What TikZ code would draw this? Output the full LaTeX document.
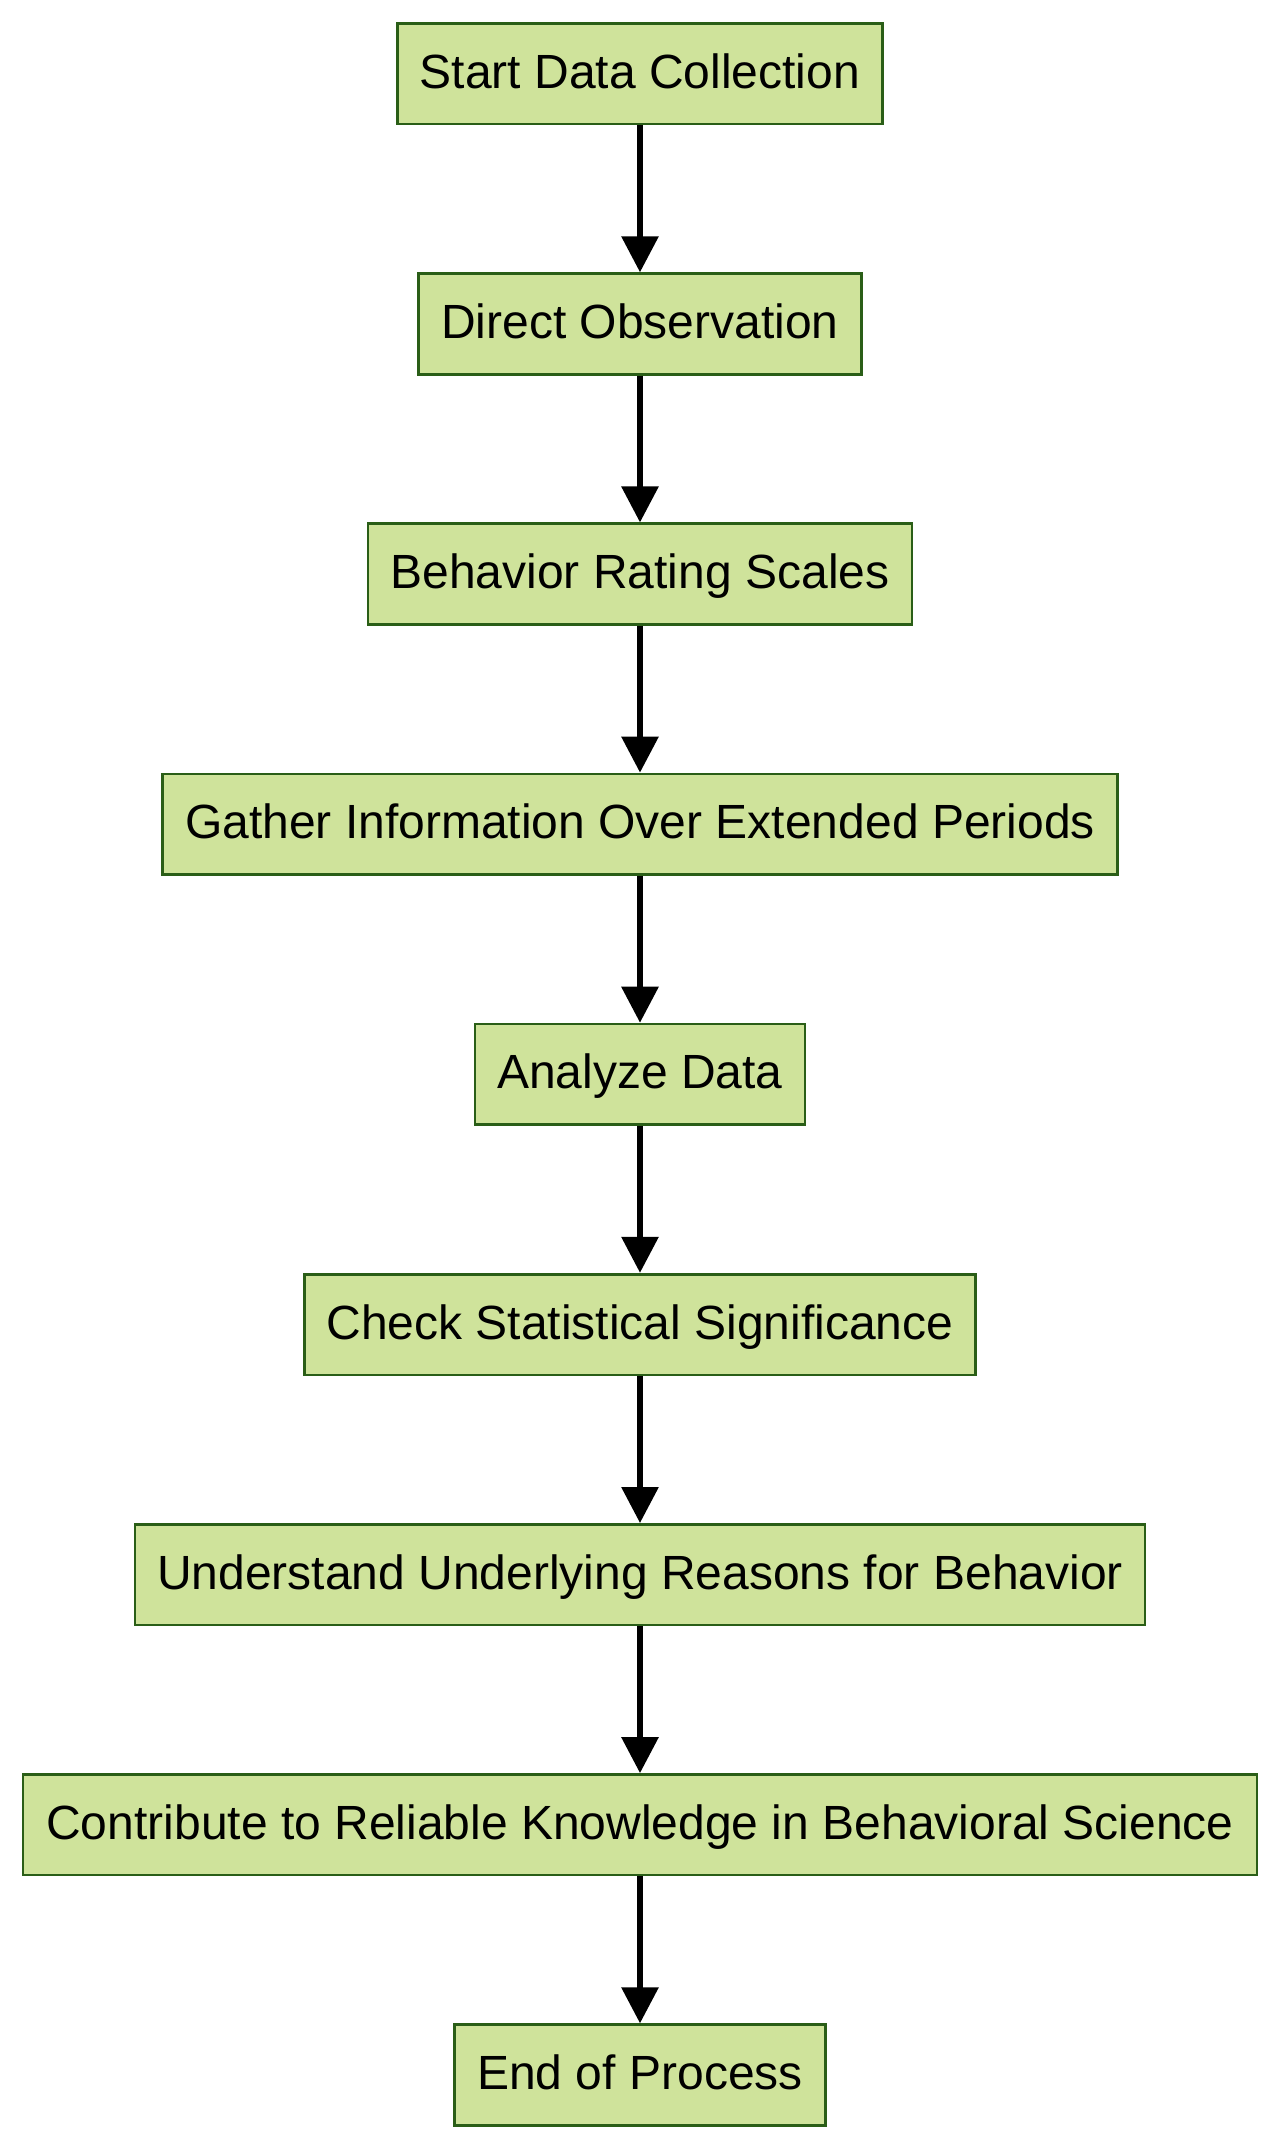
\documentclass[tikz,border=0pt]{standalone}
\usepackage{fontspec}
\setmainfont{Liberation Sans}
\usetikzlibrary{arrows.meta}
\definecolor{boxfill}{HTML}{CFE39B}
\definecolor{boxline}{HTML}{2A5E17}
\begin{document}
\begin{tikzpicture}[x=0.75pt,y=-0.75pt,
  stepbox/.style={draw=boxline,fill=boxfill,line width=2pt,minimum height=75.5pt,inner sep=0pt,
    text height=27pt,text depth=5.2pt,
    font=\fontsize{36}{43}\selectfont,text=black,anchor=center},
  flow/.style={line width=4.5pt,draw=black,-{Triangle[length=27pt,width=27pt]}}]
\useasboundingbox[fill=white] (0,0) rectangle (1280,2149);
\node[stepbox,minimum width=364pt] (n1) at (640,73.8) {Start Data Collection};
\node[stepbox,minimum width=332pt] (n2) at (640,324.0) {Direct Observation};
\node[stepbox,minimum width=408pt] (n3) at (640,574.1) {Behavior Rating Scales};
\node[stepbox,minimum width=716pt] (n4) at (640,824.3) {Gather Information Over Extended Periods};
\node[stepbox,minimum width=247.5pt] (n5) at (640,1074.4) {Analyze Data};
\node[stepbox,minimum width=503pt] (n6) at (640,1324.5) {Check Statistical Significance};
\node[stepbox,minimum width=757.5pt] (n7) at (640,1574.7) {Understand Underlying Reasons for Behavior};
\node[stepbox,minimum width=925.5pt] (n8) at (640,1824.8) {Contribute to Reliable Knowledge in Behavioral Science};
\node[stepbox,minimum width=278pt] (n9) at (640,2075.0) {End of Process};
\foreach \a/\b in {n1/n2,n2/n3,n3/n4,n4/n5,n5/n6,n6/n7,n7/n8,n8/n9}
  \draw[flow] (\a.south) -- (\b.north);
\end{tikzpicture}
\end{document}
